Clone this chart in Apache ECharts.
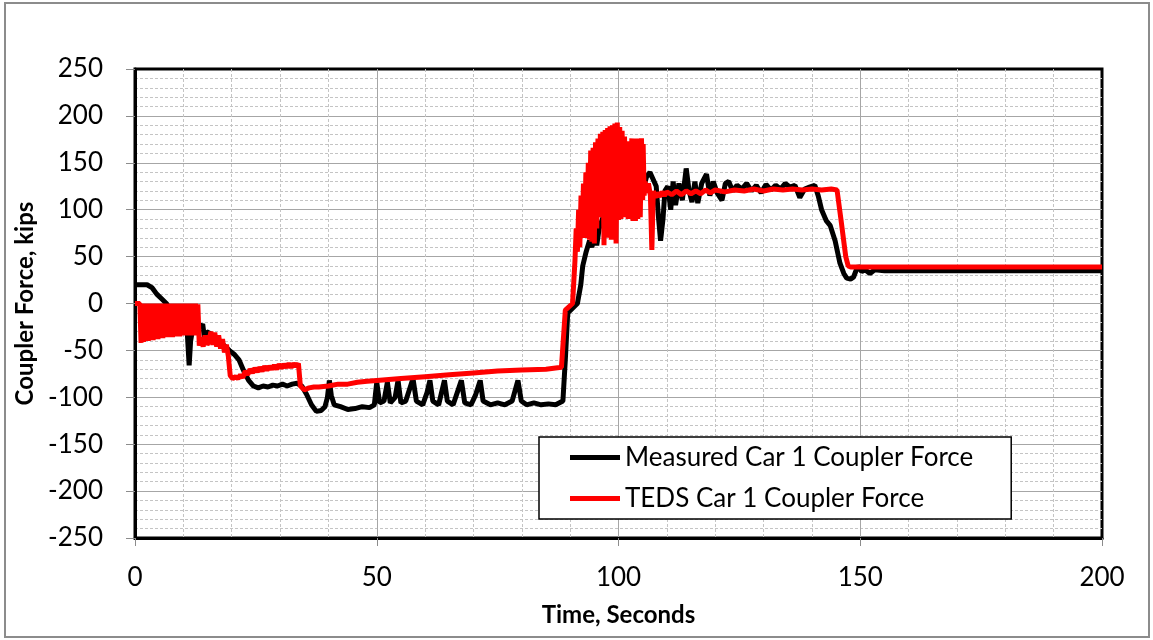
<!DOCTYPE html>
<html>
<head>
<meta charset="utf-8">
<script src="https://cdn.jsdelivr.net/npm/echarts@6/dist/echarts.min.js"></script>
<style>
  html, body { margin: 0; padding: 0; background: #fff; }
  #chart { width: 1153px; height: 640px; }
</style>
</head>
<body>
<div id="chart"></div>
<script>
// series names
const seriesNames = ['Measured Car 1 Coupler Force', 'TEDS Car 1 Coupler Force'];

// measured coupler force, [time s, kips]
const measured = [
  [0, 20], [2.5, 20], [3.5, 17], [4.5, 10], [5.5, 5], [6.5, 0], [7, -5], [8, -12], [9, -18], [10, -22],
  [10.8, -30], [11.2, -66], [11.5, -40], [12, -25], [12.5, -18], [13, -20], [13.5, -26], [14, -22], [14.4, -38],
  [14.8, -30], [15.5, -32], [16.5, -36], [17.5, -42], [18.5, -45], [19.5, -50], [20.5, -54], [21.5, -60],
  [22.5, -72], [23.5, -82], [24.5, -88], [25.5, -90], [26.5, -88], [27.5, -89], [28.5, -87], [29.5, -88],
  [30.5, -86], [31.5, -88], [32.5, -86], [33.5, -85], [34.5, -88], [35.5, -97], [36.5, -108], [37.5, -115],
  [38.5, -114], [39.3, -110], [39.8, -100], [40.2, -82], [40.6, -98], [41.2, -108], [42.5, -110], [44, -113],
  [45.5, -112], [47, -110], [48.5, -111], [49.5, -108], [50, -84], [50.6, -106], [51.5, -104], [52.2, -84],
  [52.8, -106], [53.8, -100], [54.4, -82], [55, -106], [56, -104], [57.5, -80], [58.2, -104], [59.5, -108],
  [60.4, -95], [61, -82], [61.6, -104], [62.8, -108], [64, -82], [64.6, -104], [65.8, -108], [67.5, -82],
  [68.2, -106], [69.5, -108], [70.4, -98], [71.4, -82], [72, -104], [73.5, -108], [75, -106], [76.5, -108],
  [78, -104], [79.2, -82], [79.9, -104], [81, -108], [82.5, -106], [84, -108], [85.5, -107], [87, -108],
  [88.5, -104], [89, -60], [89.5, -10], [90.5, -5], [91.5, 0], [92.2, 20], [92.6, 40], [93.3, 55], [94, 67],
  [94.5, 60], [95, 75], [95.5, 62], [96, 80], [97, 95], [98, 110], [99, 100], [100, 120], [101, 105],
  [102, 125], [103, 110], [104, 130], [105, 120], [105.8, 135], [106.5, 140], [107.2, 132], [107.8, 125],
  [108.3, 90], [108.7, 67], [109.2, 90], [109.6, 120], [110.2, 125], [110.8, 100], [111.3, 130], [111.8, 105],
  [112.5, 128], [113.2, 110], [114, 144], [114.6, 120], [115.2, 108], [115.8, 130], [116.4, 107], [117.2, 128],
  [118.2, 138], [118.9, 115], [119.6, 130], [120.4, 118], [121.4, 110], [122.1, 128], [122.8, 130], [123.6, 120],
  [124.5, 126], [125.5, 122], [126.5, 128], [127.5, 120], [128.5, 126], [129.5, 118], [130.5, 127], [131.5, 121],
  [132.5, 126], [133.5, 122], [134.5, 128], [135.5, 124], [136.5, 126], [137.5, 113], [138.5, 122], [139.5, 124],
  [140.6, 126], [141.3, 115], [142, 100], [143, 88], [143.8, 83], [144.8, 67], [145.8, 43], [146.6, 32],
  [147.2, 27], [148, 26], [148.6, 28], [149.5, 40], [150.3, 34], [151, 36], [152, 32], [153, 36], [155, 35],
  [160, 35], [200, 35]
];

// TEDS simulated coupler force, [time s, kips]
const teds = [
  [0, 0], [1, 0], [1.25, -42], [1.5, 0], [1.75, -41], [2, -1], [2.25, -40], [2.5, 0], [2.75, -40], [3, -2],
  [3.25, -39], [3.5, 0], [3.75, -39], [4, -1], [4.25, -38], [4.5, 0], [4.75, -38], [5, -2], [5.25, -37], [5.5, 0],
  [5.75, -37], [6, -1], [6.25, -36], [6.5, 0], [6.75, -36], [7, -2], [7.25, -35], [7.5, 0], [7.75, -36], [8, -1],
  [8.25, -35], [8.5, 0], [8.75, -34], [9, -2], [9.25, -35], [9.5, 0], [9.75, -34], [10, -1], [10.25, -34],
  [10.5, 0], [10.75, -33], [11, -2], [11.25, -34], [11.5, 0], [11.75, -33], [12, -1], [12.25, -34], [12.5, 0],
  [12.75, -33], [13, -1], [13.3, -45], [13.7, -36], [14.1, -46], [14.5, -34], [14.9, -44], [15.3, -40],
  [15.7, -30], [16.1, -44], [16.5, -31], [16.9, -46], [17.3, -34], [17.7, -48], [18.1, -38], [18.5, -52],
  [18.9, -44], [19.3, -56], [19.7, -77], [20.2, -80], [20.8, -78], [21.3, -80], [21.8, -76], [22.3, -79],
  [22.8, -72], [23.3, -76], [23.8, -70], [24.3, -74], [24.8, -69], [25.3, -73], [25.8, -68], [26.3, -72],
  [26.8, -67], [27.3, -71], [27.8, -67], [28.3, -70], [28.8, -66], [29.3, -70], [29.8, -65], [30.3, -69],
  [30.8, -65], [31.3, -68], [31.8, -64], [32.3, -68], [32.8, -64], [33.3, -67], [33.8, -64], [34.2, -88],
  [35, -92], [36, -90], [37, -89], [38, -89], [40, -88], [42, -86], [44, -86], [46, -84], [48, -83], [50, -82],
  [55, -80], [60, -78], [65, -76], [70, -74], [75, -72], [80, -71], [85, -70], [88.2, -68], [88.7, -30],
  [89, -7], [90.5, 0], [91, 46], [91.25, 80], [91.5, 55], [91.75, 100], [92, 60], [92.25, 115], [92.5, 70],
  [92.75, 128], [93, 72], [93.25, 140], [93.5, 70], [93.75, 150], [94, 68], [94.25, 163], [94.5, 66],
  [94.75, 166], [95, 64], [95.25, 172], [95.5, 80], [95.75, 176], [96, 92], [96.25, 181], [96.5, 96],
  [96.75, 183], [97, 62], [97.25, 185], [97.5, 70], [97.75, 187], [98, 75], [98.25, 189], [98.5, 68],
  [98.75, 190], [99, 70], [99.25, 192], [99.5, 64], [99.75, 193], [100, 89], [100.25, 188], [100.5, 90],
  [100.75, 184], [101, 92], [101.25, 178], [101.5, 92], [101.75, 172], [102, 90], [102.25, 173], [102.5, 92],
  [102.75, 176], [103, 88], [103.25, 175], [103.5, 88], [103.75, 176], [104, 90], [104.25, 175], [104.5, 92],
  [104.75, 176], [105, 110], [105.1, 170], [105.3, 115], [105.5, 130], [105.8, 118], [106.2, 128], [106.6, 115],
  [106.9, 57], [107.2, 120], [107.6, 113], [108, 118], [108.5, 114], [109, 119], [109.5, 115], [110, 119],
  [111, 116], [112, 120], [113, 116], [114, 120], [115, 117], [116, 120], [117, 117], [118, 121], [119, 118],
  [120, 121], [122, 119], [124, 121], [126, 120], [128, 122], [130, 120], [132, 122], [134, 121], [136, 122],
  [138, 121], [140, 122], [142, 121], [144, 122], [145.2, 121], [146, 90], [147, 50], [147.5, 40], [148, 39],
  [200, 39]
];

const font = 'Lato, "Open Sans", sans-serif';

const chart = echarts.init(document.getElementById('chart'));
chart.setOption({
  animation: false,
  backgroundColor: '#fff',
  textStyle: { fontFamily: font },
  graphic: [{
    type: 'rect',
    shape: { x: 5, y: 3, width: 1144, height: 634 },
    style: { fill: null, stroke: '#8c8c8c', lineWidth: 2 },
    z: 100
  }],
  grid: {
    left: 135, right: 51, top: 69, bottom: 102,
    show: true, borderColor: '#000', borderWidth: 3
  },
  legend: {
    orient: 'vertical',
    left: 539, top: 437,
    padding: [7, 38, 7, 31],
    itemGap: 14,
    itemWidth: 50, itemHeight: 5,
    backgroundColor: '#fff',
    borderColor: '#000', borderWidth: 1.5,
    textStyle: { fontFamily: font, fontSize: 26, lineHeight: 27, color: '#000' },
    data: seriesNames.map(n => ({ name: n, icon: 'rect' }))
  },
  xAxis: {
    type: 'value', min: 0, max: 200, interval: 50,
    name: 'Time, Seconds', nameLocation: 'middle', nameGap: 65,
    nameTextStyle: { fontFamily: font, fontSize: 24, fontWeight: 'bold', color: '#000' },
    axisLine: { show: true, onZero: false, lineStyle: { color: '#000', width: 3 } },
    axisTick: { show: true, length: 8, lineStyle: { color: '#8c8c8c' } },
    axisLabel: { fontFamily: font, fontSize: 26, color: '#000', margin: 27 },
    splitLine: { show: true, showMinLine: false, showMaxLine: false, lineStyle: { color: '#a6a6a6', width: 1 } },
    minorTick: { show: false, splitNumber: 5 },
    minorSplitLine: { show: true, lineStyle: { color: '#c4c4c4', width: 1, type: [3, 2] } }
  },
  yAxis: {
    type: 'value', min: -250, max: 250, interval: 50,
    name: 'Coupler Force, kips', nameLocation: 'middle', nameGap: 96, nameRotate: 90,
    nameTextStyle: { fontFamily: font, fontSize: 24, fontWeight: 'bold', color: '#000' },
    axisLine: { show: true, onZero: false, lineStyle: { color: '#000', width: 3 } },
    axisTick: { show: true, length: 9, lineStyle: { color: '#8c8c8c' } },
    axisLabel: { fontFamily: font, fontSize: 26, color: '#000', margin: 32 },
    splitLine: { show: true, showMinLine: false, showMaxLine: false, lineStyle: { color: '#a6a6a6', width: 1 } },
    minorTick: { show: false, splitNumber: 5 },
    minorSplitLine: { show: true, lineStyle: { color: '#c4c4c4', width: 1, type: [3, 2] } }
  },
  series: [
    {
      name: seriesNames[0], type: 'line', data: measured,
      showSymbol: false, symbol: 'none',
      lineStyle: { color: '#000', width: 5 }, itemStyle: { color: '#000' }
    },
    {
      name: seriesNames[1], type: 'line', data: teds,
      showSymbol: false, symbol: 'none',
      lineStyle: { color: '#ff0000', width: 5 }, itemStyle: { color: '#ff0000' }
    }
  ]
});
</script>
</body>
</html>
